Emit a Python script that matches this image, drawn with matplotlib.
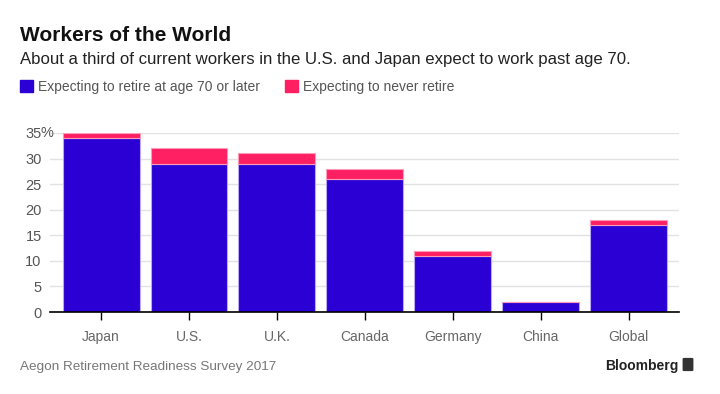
import matplotlib.pyplot as plt
import matplotlib.patches as patches
import numpy as np

plt.rcParams['font.family'] = ['Liberation Sans', 'DejaVu Sans']

countries = ['Japan', 'U.S.', 'U.K.', 'Canada', 'Germany', 'China', 'Global']
retire_70_plus = [34, 29, 29, 26, 11, 2, 17]
never_retire = [1, 3, 2, 2, 1, 0, 1]
y_ticks = [0, 5, 10, 15, 20, 25, 30, 35]
y_tick_labels = ['0', '5', '10', '15', '20', '25', '30', '35']

blue = '#2a00d5'
pink = '#fe2062'

W, H = 720, 394


def fx(px):
    return px / W


def fy(py):
    return 1 - py / H


fig = plt.figure(figsize=(7.2, 3.94), dpi=100)
ax = fig.add_axes([fx(50), fy(312), 629 / W, (312 - 133) / H])

x = np.arange(len(countries))
ax.bar(x, retire_70_plus, width=0.875, color=blue, edgecolor='#b9a8f5', linewidth=0.8, zorder=3)
ax.bar(x, never_retire, width=0.875, bottom=retire_70_plus, color=pink, edgecolor='#ff9ab8',
       linewidth=0.8, zorder=3)

ax.set_xlim(-0.58, len(countries) - 1 + 0.57)
ax.set_ylim(0, 35)
ax.set_yticks(y_ticks)
ax.set_yticklabels(y_tick_labels)
ax.set_xticks(x)
ax.set_xticklabels(countries)
ax.grid(axis='y', color='#e2e2e6', linewidth=1, zorder=0)
for side in ['top', 'right', 'left']:
    ax.spines[side].set_visible(False)
ax.spines['bottom'].set_color('black')
ax.spines['bottom'].set_linewidth(1.2)
ax.spines['bottom'].set_zorder(4)
ax.tick_params(axis='y', length=0, pad=6, labelsize=10.5, labelcolor='#555555')
ax.tick_params(axis='x', length=6, width=1, color='black', pad=7, labelsize=10, labelcolor='#666666')

# percent sign hangs after the top label
ax.annotate('%', xy=(0, 35), xycoords=('axes fraction', 'data'), xytext=(-6.6, 0),
            textcoords='offset points', ha='left', va='center', fontsize=10.5, color='#555555')

# titles
fig.text(fx(20), fy(41), 'Workers of the World', fontsize=15, fontweight='bold',
         color='#111111', va='baseline', ha='left')
fig.text(fx(20), fy(64), 'About a third of current workers in the U.S. and Japan expect to work past age 70.',
         fontsize=12.1, color='#222222', va='baseline', ha='left')

# legend
legend_items = [('Expecting to retire at age 70 or later', blue, 20),
                ('Expecting to never retire', pink, 285)]
for label, color, lx in legend_items:
    fig.patches.append(patches.Rectangle((fx(lx), fy(92)), 12.5 / W, 12.5 / H,
                                         transform=fig.transFigure, color=color))
    fig.text(fx(lx + 18), fy(90.5), label, fontsize=10, color='#555555',
             va='baseline', ha='left')

# footer
fig.text(fx(20), fy(370), 'Aegon Retirement Readiness Survey 2017', fontsize=9.7,
         color='#777777', va='baseline', ha='left')
fig.text(fx(678), fy(370), 'Bloomberg', fontsize=10, fontweight='bold',
         color='#222222', va='baseline', ha='right')
fig.patches.append(patches.FancyBboxPatch((fx(684), fy(370)), 8 / W, 11 / H,
                                          boxstyle='round,pad=0.001', transform=fig.transFigure,
                                          color='#333333'))

fig.savefig('out.png', dpi=100)
